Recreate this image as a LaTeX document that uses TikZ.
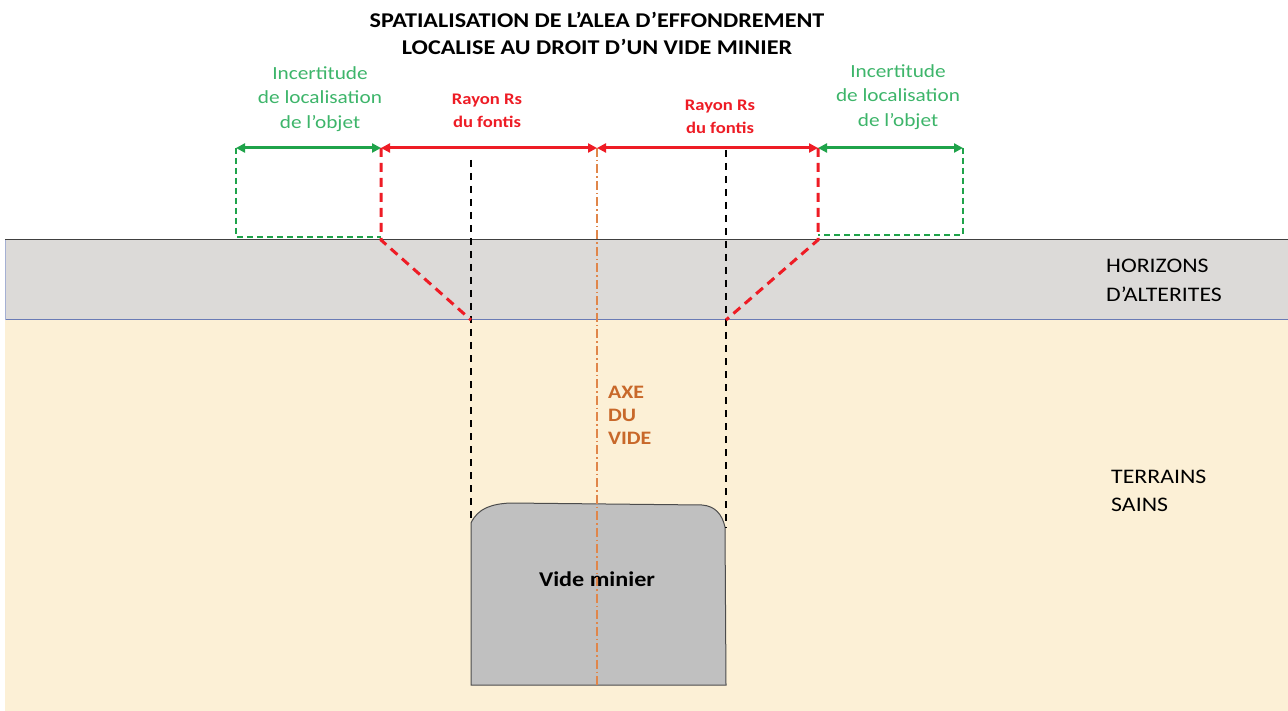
\documentclass[tikz,border=0pt]{standalone}
\usepackage{fontspec}
\setmainfont{Carlito}[FakeStretch=1.15]
\usetikzlibrary{arrows.meta}
\definecolor{greenline}{HTML}{1FA34A}
\definecolor{greentext}{HTML}{3DB56A}
\definecolor{redline}{HTML}{EE1C25}
\definecolor{axisorange}{HTML}{E0864A}
\definecolor{axistext}{HTML}{C8682A}
\definecolor{alterites}{HTML}{DCDAD8}
\definecolor{sains}{HTML}{FCF0D6}
\definecolor{voidgrey}{HTML}{C0C0C0}
\definecolor{layerblue}{HTML}{6A7BB5}
\tikzset{
  label/.style={inner sep=0pt, align=center},
  greenarrow/.style={greenline, line width=3pt, {Triangle[length=9pt,width=9pt]}-{Triangle[length=9pt,width=9pt]}},
  redarrow/.style={redline, line width=3pt, {Triangle[length=9pt,width=9pt]}-{Triangle[length=9pt,width=9pt]}},
  greendash/.style={greenline, line width=1.8pt, dash pattern=on 6pt off 4pt},
  reddash/.style={redline, line width=3pt, dash pattern=on 9pt off 6pt},
  blackdash/.style={black, line width=2.2pt, dash pattern=on 7pt off 6pt},
  axisline/.style={axisorange, line width=1.3pt, dash pattern=on 9pt off 3pt on 1.5pt off 3pt},
}
\begin{document}
\begin{tikzpicture}[x=1pt,y=-1pt]
\useasboundingbox (0,0) rectangle (1288,711);
\fill[white] (0,0) rectangle (1288,711);

% ground layers
\fill[sains] (5,320) rectangle (1288,711);
\fill[alterites] (5,240) rectangle (1288,320);
\draw[layerblue, line width=1pt] (5,320) -- (1288,320);
\draw[layerblue!60, line width=0.8pt] (5,240) -- (5,320);
\draw[black!75, line width=1pt] (5,240) -- (1288,240);

% key points
\coordinate (gL) at (236,148);
\coordinate (rL) at (381,148);
\coordinate (ax) at (597,148);
\coordinate (rR) at (818,148);
\coordinate (gR) at (963,148);
\coordinate (gLb) at (236,237);
\coordinate (rLb) at (381,237);
\coordinate (rLs) at (381,240);
\coordinate (gRb) at (963,235);
\coordinate (rRb) at (818,235);
\coordinate (rRs) at (818,240);
\coordinate (pL) at (471,320);
\coordinate (pR) at (726,320);
\coordinate (bLt) at (471,160);
\coordinate (bRt) at (726,150);
\coordinate (axb) at (597,685);

% mine void
\filldraw[fill=voidgrey, draw=black!70, line width=1pt]
  (471,685) -- (471,523) .. controls (478,508) and (492,504) .. (510,503)
  -- (702,505) .. controls (715,506) and (722,514) .. (725,527)
  -- (726,685) -- cycle;
\node[label, font=\bfseries\fontsize{21}{24}\selectfont] (vide) at (597,579) {Vide minier};

% edges of the void
\draw[blackdash] (bLt) -- (471,523);
\draw[blackdash] (bRt) -- (726,528);

% axis of the void
\draw[axisline] (ax) -- (axb);

% uncertainty bounds
\draw[greendash] (gL) -- (gLb) -- (rLb);
\draw[greendash] (gR) -- (gRb) -- (rRb);

% collapse cone
\draw[reddash] (rL) -- (rLs) -- (pL);
\draw[reddash] (rR) -- (rRs) -- (pR);

% dimension arrows
\draw[greenarrow] (gL) -- (rL);
\draw[redarrow] (rL) -- (ax);
\draw[redarrow] (ax) -- (rR);
\draw[greenarrow] (rR) -- (gR);

% labels
\node[label, font=\bfseries\fontsize{21}{27}\selectfont] (title) at (597,33)
  {SPATIALISATION DE L’ALEA D’EFFONDREMENT\\LOCALISE AU DROIT D’UN VIDE MINIER};
\node[label, text=greentext, font=\fontsize{18.5}{24.5}\selectfont] (incL) at (320,99)
  {Incertitude\\de localisation\\de l’objet};
\node[label, text=greentext, font=\fontsize{18.5}{24.5}\selectfont] (incR) at (898,97)
  {Incertitude\\de localisation\\de l’objet};
\node[label, text=redline, font=\bfseries\fontsize{16.2}{23}\selectfont] (rayL) at (487,111)
  {Rayon Rs\\du fontis};
\node[label, text=redline, font=\bfseries\fontsize{16.2}{23}\selectfont] (rayR) at (720,117)
  {Rayon Rs\\du fontis};
\node[label, align=left, anchor=west, text=axistext, font=\bfseries\fontsize{19}{23}\selectfont] (axe) at (608,415)
  {AXE\\DU\\VIDE};
\node[label, align=left, anchor=west, font=\fontsize{20.7}{29}\selectfont] (hor) at (1106,280)
  {HORIZONS\\D’ALTERITES};
\node[label, align=left, anchor=west, font=\fontsize{20.7}{28}\selectfont] (ter) at (1111,491)
  {TERRAINS\\SAINS};
\end{tikzpicture}
\end{document}
